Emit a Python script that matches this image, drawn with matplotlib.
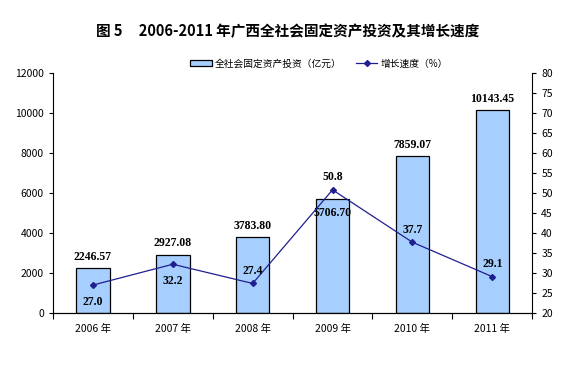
import numpy as np
import matplotlib
matplotlib.use('Agg')
import matplotlib.pyplot as plt

plt.rcParams['font.family'] = ['Noto Sans CJK SC', 'DejaVu Sans']

years = ['2006 年', '2007 年', '2008 年', '2009 年', '2010 年', '2011 年']
investment = [2246.57, 2927.08, 3783.80, 5706.70, 7859.07, 10143.45]
growth = [27.0, 32.2, 27.4, 50.8, 37.7, 29.1]

# label offsets in points (bar labels, line labels)
bar_off = [8, 8, 8, -10, 8, 8]
line_off = [-12, -12, 9, 9, 9, 9]

fig = plt.figure(figsize=(5.76, 3.67), dpi=100)
ax = fig.add_axes([0.092, 0.147, 0.832, 0.654])
ax2 = ax.twinx()

x = np.arange(len(years))
bars = ax.bar(x, investment, width=0.42, color='#A6CFFF', edgecolor='black', linewidth=0.9,
              label='全社会固定资产投资（亿元）', zorder=2)
ax2.plot(x, growth, color='#1F1F8F', linewidth=0.9, marker='D', markersize=3,
         label='增长速度（%）', zorder=3)

for i, v in enumerate(investment):
    ax.annotate('%.2f' % v, (x[i], v), xytext=(0, bar_off[i]), textcoords='offset points',
                ha='center', va='center', fontsize=8.5, fontweight='bold',
                family='Liberation Serif', zorder=5)
for i, v in enumerate(growth):
    ax2.annotate('%.1f' % v, (x[i], v), xytext=(0, line_off[i]), textcoords='offset points',
                 ha='center', va='center', fontsize=8.5, fontweight='bold',
                 family='Liberation Serif', zorder=5)

ax.set_xlim(-0.5, len(years) - 0.5)
ax.set_ylim(0, 12000)
ax.set_yticks(np.arange(0, 12001, 2000))
ax2.set_ylim(20, 80)
ax2.set_yticks(np.arange(20, 81, 5))

ax.set_xticks(x)
ax.set_xticklabels(years, fontsize=7.5)
ax.tick_params(axis='x', length=0, pad=8)
ax.set_xticks(np.arange(-0.5, len(years), 1), minor=True)
ax.tick_params(axis='x', which='minor', length=4, direction='out', width=0.8)

for a in (ax, ax2):
    a.spines['top'].set_visible(False)
    a.tick_params(axis='y', labelsize=7.5, length=3, width=0.8)
    for s in a.spines.values():
        s.set_linewidth(0.8)
ax2.spines['left'].set_visible(False)
ax.spines['right'].set_visible(False)
ax2.spines['right'].set_visible(True)

fig.text(0.5, 0.915, '图 5     2006-2011 年广西全社会固定资产投资及其增长速度',
         ha='center', va='center', fontsize=10.5, fontweight='bold')

h1, l1 = ax.get_legend_handles_labels()
h2, l2 = ax2.get_legend_handles_labels()
ax.legend(h1 + h2, l1 + l2, loc='center', bbox_to_anchor=(0.555, 1.04), ncol=2,
          frameon=False, fontsize=7, handlelength=2.2, handleheight=0.7,
          columnspacing=1.5, handletextpad=0.3)

fig.savefig('out.png', dpi=100)
